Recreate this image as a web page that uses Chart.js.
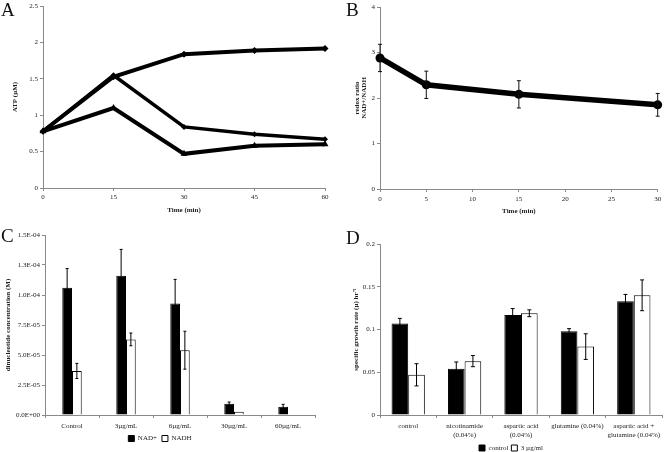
<!DOCTYPE html>
<html><head><meta charset="utf-8">
<script src="https://cdn.jsdelivr.net/npm/chart.js@4/dist/chart.umd.min.js"></script>
<style>
html,body{margin:0;padding:0;background:#fff;width:664px;height:452px;overflow:hidden;}
.p{position:absolute;}
.lt{position:absolute;font-family:"Liberation Serif","Times New Roman",serif;font-size:19px;color:#111;line-height:1;}
</style></head><body>
<div class="p" style="left:0;top:0;width:340px;height:220px"><canvas id="cA"></canvas></div>
<div class="p" style="left:330px;top:0;width:334px;height:220px"><canvas id="cB"></canvas></div>
<div class="p" style="left:0;top:215px;width:340px;height:237px"><canvas id="cC"></canvas></div>
<div class="p" style="left:330px;top:215px;width:334px;height:237px"><canvas id="cD"></canvas></div>
<div class="lt" style="left:1px;top:0px">A</div>
<div class="lt" style="left:346px;top:0px">B</div>
<div class="lt" style="left:1px;top:226px">C</div>
<div class="lt" style="left:346px;top:228px">D</div>
<script>
// ---- Panel A: ATP over time ----
const aTime = [0, 15, 30, 45, 60];
const aSeries1 = [0.78, 1.53, 1.84, 1.89, 1.92];
const aSeries2 = [0.78, 1.55, 0.84, 0.74, 0.67];
const aSeries3 = [0.78, 1.10, 0.47, 0.58, 0.60];
const aYTickLabels = ['0', '0.5', '1', '1.5', '2', '2.5'];

// ---- Panel B: redox ratio ----
const bTime = [0, 5, 15, 30];
const bRatio = [2.88, 2.29, 2.08, 1.85];
const bErr = [0.30, 0.30, 0.30, 0.25];

// ---- Panel C: dinucleotide concentration ----
const cCategories = ['Control', '3µg/mL', '6µg/mL', '30µg/mL', '60µg/mL'];
const cNADplus = [1.06e-4, 1.16e-4, 9.3e-5, 9.4e-6, 6.9e-6];
const cNADplusErr = [1.6e-5, 2.2e-5, 2.0e-5, 1.4e-6, 2.0e-6];
const cNADH = [3.67e-5, 6.3e-5, 5.4e-5, 2.8e-6, 0];
const cNADHErr = [6.3e-6, 5.3e-6, 1.58e-5, 0, 0];
const cTickLabels = ['0.0E+00', '2.5E-05', '5.0E-05', '7.5E-05', '1.0E-04', '1.3E-04', '1.5E-04'];

// ---- Panel D: specific growth rate ----
const dCategories = [['control'], ['nicotinamide', '(0.04%)'], ['aspartic acid', '(0.04%)'], ['glutamine (0.04%)'], ['aspartic acid +', 'glutamine (0.04%)']];
const dControl = [0.107, 0.054, 0.117, 0.098, 0.133];
const dControlErr = [0.006, 0.008, 0.0075, 0.003, 0.008];
const d3ug = [0.047, 0.063, 0.119, 0.080, 0.140];
const d3ugErr = [0.013, 0.0065, 0.004, 0.015, 0.018];
const dYTickLabels = ['0', '0.05', '0.1', '0.15', '0.2'];

const FONT = '"Liberation Serif","Times New Roman",serif';
Chart.defaults.font.family = FONT;
Chart.defaults.font.size = 7;
Chart.defaults.color = '#222';
Chart.defaults.animation = false;
Chart.defaults.responsive = true;
Chart.defaults.maintainAspectRatio = false;

const AXIS = '#8a8a8a';
const grid = {display: true, drawOnChartArea: false, drawTicks: true, tickLength: 3, color: AXIS, lineWidth: 1};
const border = {display: true, color: AXIS, width: 1};
const titleFont = {family: FONT, size: 7, weight: 'bold', lineHeight: 1.2};

const errorBarPlugin = {
  id: 'errorBars',
  afterDatasetsDraw(chart) {
    const ctx = chart.ctx;
    const yS = chart.scales.y;
    chart.data.datasets.forEach((ds, di) => {
      if (!ds.errors) return;
      const meta = chart.getDatasetMeta(di);
      meta.data.forEach((el, i) => {
        const e = ds.errors[i];
        if (!e) return;
        const raw = ds.data[i];
        const val = (typeof raw === 'object') ? raw.y : raw;
        const x = el.x;
        const t = yS.getPixelForValue(val + e);
        const b = yS.getPixelForValue(val - e);
        const c = ds.capHalf || 2;
        ctx.save();
        ctx.strokeStyle = ds.errorColor || '#000';
        ctx.lineWidth = ds.errorWidth || 1;
        ctx.beginPath();
        ctx.moveTo(x, t); ctx.lineTo(x, b);
        ctx.moveTo(x - c, t); ctx.lineTo(x + c, t);
        ctx.moveTo(x - c, b); ctx.lineTo(x + c, b);
        ctx.stroke();
        ctx.restore();
      });
    });
  }
};

function pts(xs, ys) { return xs.map((x, i) => ({x: x, y: ys[i]})); }

// Panel A
new Chart(document.getElementById('cA'), {
  type: 'line',
  data: {
    datasets: [
      {data: pts(aTime, aSeries1), borderColor: '#000', backgroundColor: '#000', borderWidth: 4, pointStyle: 'rectRot', pointRadius: 3.5, pointBorderWidth: 0, tension: 0, clip: false},
      {data: pts(aTime, aSeries2), borderColor: '#000', backgroundColor: '#000', borderWidth: 3.5, pointStyle: 'rectRot', pointRadius: 3, pointBorderWidth: 0, tension: 0, clip: false},
      {data: pts(aTime, aSeries3), borderColor: '#000', backgroundColor: '#000', borderWidth: 4, pointStyle: 'triangle', pointRadius: 4, pointBorderWidth: 0, tension: 0, clip: false}
    ]
  },
  options: {
    layout: {padding: {left: 0, top: 6, right: 15, bottom: 0}},
    plugins: {legend: {display: false}, tooltip: {enabled: false}},
    scales: {
      x: {type: 'linear', min: 0, max: 60, ticks: {stepSize: 15, padding: 1.8}, grid: grid, border: border,
          title: {display: true, text: 'Time (min)', font: titleFont, padding: {top: 0, bottom: 5.8}},
          afterFit: s => { s.height = 32; }},
      y: {min: 0, max: 2.5, ticks: {stepSize: 0.5, padding: 2, callback: (v, i) => aYTickLabels[i]}, grid: grid, border: border,
          title: {display: true, text: 'ATP (µM)', font: titleFont, padding: {top: 10.8, bottom: 0}},
          afterFit: s => { s.width = 43; }}
    }
  }
});

// Panel B
new Chart(document.getElementById('cB'), {
  type: 'line',
  data: {
    datasets: [
      {data: pts(bTime, bRatio), errors: bErr, capHalf: 2, errorWidth: 1, errorColor: '#111', borderColor: '#000', backgroundColor: '#000', borderWidth: 5.5, pointStyle: 'circle', pointRadius: 4.5, pointBorderWidth: 0, tension: 0, clip: false}
    ]
  },
  options: {
    layout: {padding: {left: 0, top: 7, right: 5, bottom: 0}},
    plugins: {legend: {display: false}, tooltip: {enabled: false}},
    scales: {
      x: {type: 'linear', min: 0, max: 30, ticks: {stepSize: 5, padding: 2.8}, grid: grid, border: border,
          title: {display: true, text: 'Time (min)', font: titleFont, padding: {top: 0, bottom: 4.8}},
          afterFit: s => { s.height = 31; }},
      y: {min: 0, max: 4, ticks: {stepSize: 1, padding: 2}, grid: grid, border: border,
          title: {display: true, text: ['redox ratio', 'NAD+/NADH'], font: {family: FONT, size: 7, weight: 'bold', lineHeight: 1.1}, padding: {top: 23, bottom: 0}},
          afterFit: s => { s.width = 50; }}
    }
  },
  plugins: [errorBarPlugin]
});

// Panel C
new Chart(document.getElementById('cC'), {
  type: 'bar',
  data: {
    labels: cCategories,
    datasets: [
      {label: 'NAD+', data: cNADplus, errors: cNADplusErr, capHalf: 1.5, backgroundColor: '#000', borderColor: '#000', borderWidth: 1, categoryPercentage: 0.36, barPercentage: 1.0},
      {label: 'NADH', data: cNADH, errors: cNADHErr, capHalf: 1.5, backgroundColor: '#fff', borderColor: '#000', borderWidth: 1, categoryPercentage: 0.36, barPercentage: 1.0}
    ]
  },
  options: {
    layout: {padding: {left: 5, top: 20, right: 25, bottom: 0}},
    plugins: {
      tooltip: {enabled: false},
      legend: {display: true, position: 'bottom', labels: {boxWidth: 6, boxHeight: 6, padding: 5, font: {family: FONT, size: 7}, color: '#222'}}
    },
    scales: {
      x: {ticks: {padding: 3.8, maxRotation: 0, minRotation: 0, autoSkip: false}, grid: grid, border: border, afterFit: s => { s.height = 15; }},
      y: {min: 0, max: 1.5e-4, ticks: {stepSize: 2.5e-5, padding: 2, callback: (v, i) => cTickLabels[i]}, grid: grid, border: border,
          title: {display: true, text: 'dinucleotide concentration (M)', font: titleFont, padding: {top: -1.2, bottom: 0}},
          afterFit: s => { s.width = 40; }}
    }
  },
  plugins: [errorBarPlugin]
});

// Panel D
new Chart(document.getElementById('cD'), {
  type: 'bar',
  data: {
    labels: dCategories,
    datasets: [
      {label: 'control', data: dControl, errors: dControlErr, capHalf: 2, backgroundColor: '#000', borderColor: '#000', borderWidth: 1, categoryPercentage: 0.59, barPercentage: 1.0},
      {label: '3 µg/ml', data: d3ug, errors: d3ugErr, capHalf: 2, backgroundColor: '#fff', borderColor: '#000', borderWidth: 1, categoryPercentage: 0.59, barPercentage: 1.0}
    ]
  },
  options: {
    layout: {padding: {left: 30, top: 29, right: 2, bottom: -9.5}},
    plugins: {
      tooltip: {enabled: false},
      legend: {display: true, position: 'bottom', labels: {boxWidth: 6, boxHeight: 6, padding: 3, font: {family: FONT, size: 7}, color: '#222'}}
    },
    scales: {
      x: {ticks: {padding: 3.6, maxRotation: 0, minRotation: 0, autoSkip: false, font: {family: FONT, size: 7, lineHeight: 1.25}}, grid: grid, border: border, afterFit: s => { s.height = 26.5; }},
      y: {min: 0, max: 0.2, ticks: {stepSize: 0.05, padding: 2, callback: (v, i) => dYTickLabels[i]}, grid: grid, border: border,
          title: {display: true, text: 'specific growth rate (µ) hr⁻¹', font: titleFont, padding: {top: -8.2, bottom: 0}},
          afterFit: s => { s.width = 20; }}
    }
  },
  plugins: [errorBarPlugin]
});
</script>
</body></html>
